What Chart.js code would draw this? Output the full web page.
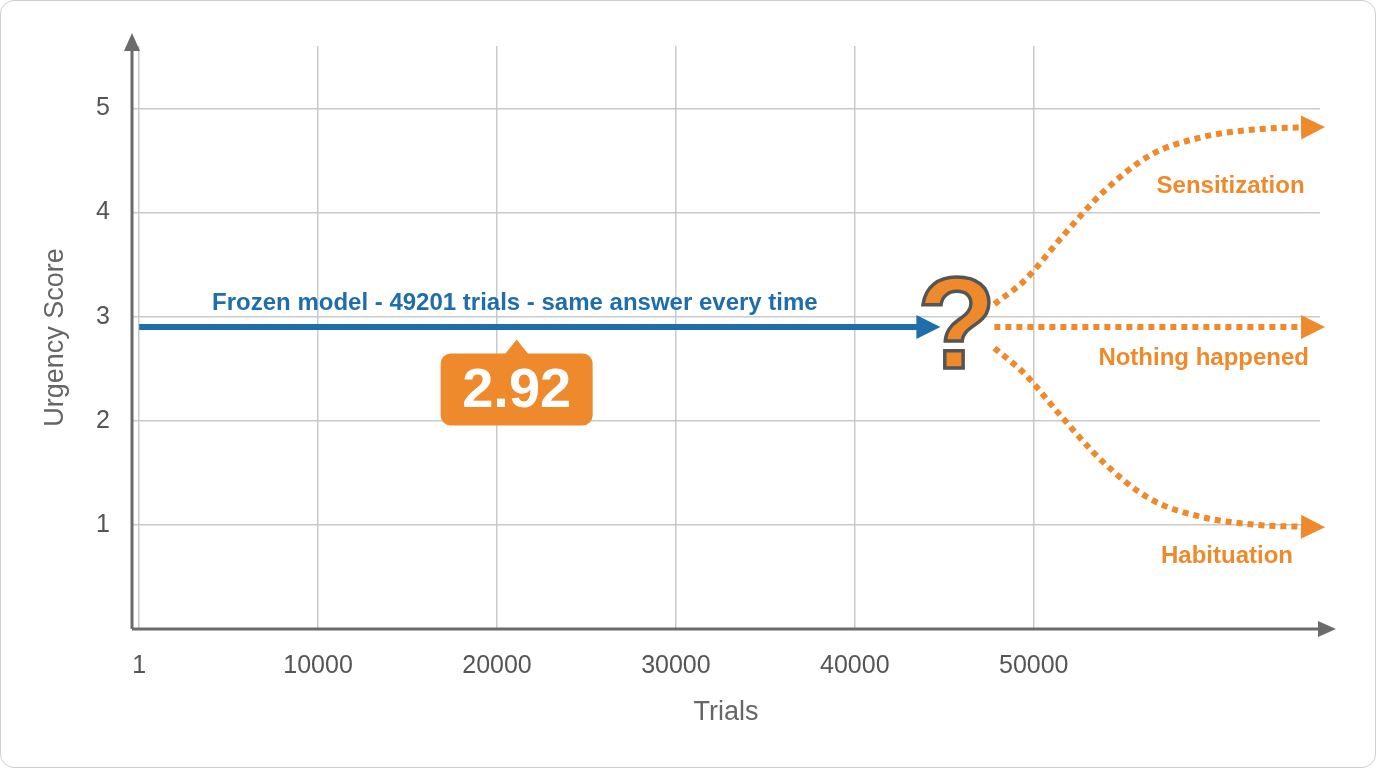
<!DOCTYPE html>
<html><head><meta charset="utf-8">
<script src="https://cdn.jsdelivr.net/npm/chart.js@4/dist/chart.umd.min.js"></script>
<style>
html,body{margin:0;padding:0;background:#fff;}
#wrap{position:absolute;left:0;top:0;width:1374px;height:766px;border:1px solid #d0d0d0;border-radius:14px;overflow:hidden;}
</style></head><body>
<div id="wrap"><canvas id="c" width="1374" height="766"></canvas></div>
<script>
const xTicks = [1, 10000, 20000, 30000, 40000, 50000];
const yTicks = [1, 2, 3, 4, 5];
const frozenX = [1, 44000];
const frozenY = [2.9, 2.9];
const frozenValue = "2.92";
const sensX = [47800, 49500, 51500, 53900, 56500, 59300, 62500, 65500];
const sensY = [3.12, 3.35, 3.75, 4.2, 4.55, 4.72, 4.8, 4.82];
const nothingX = [47800, 65500];
const nothingY = [2.9, 2.9];
const habX = [47800, 49500, 51500, 53900, 56500, 59300, 62500, 65500];
const habY = [2.7, 2.45, 2.05, 1.6, 1.25, 1.08, 1.0, 0.98];

const BLUE = '#1f6dab', ORANGE = '#ef8a2c', GREY = '#6b6b6b';
const FONT = '"Liberation Sans", Arial, sans-serif';
const pts = (xs, ys) => xs.map((x, i) => ({x, y: ys[i]}));

function arrowHead(ctx, x, y, ang, len, wid, col) {
  ctx.save(); ctx.translate(x, y); ctx.rotate(ang);
  ctx.beginPath(); ctx.moveTo(0, 0); ctx.lineTo(-len, -wid / 2); ctx.lineTo(-len, wid / 2); ctx.closePath();
  ctx.fillStyle = col; ctx.fill(); ctx.restore();
}

const deco = {
  id: 'deco',
  afterDatasetsDraw(chart) {
    const {ctx, chartArea: a, scales: {x, y}} = chart;
    ctx.save();
    ctx.strokeStyle = GREY; ctx.lineWidth = 3;
    ctx.beginPath(); ctx.moveTo(a.left, a.bottom); ctx.lineTo(a.right + 10, a.bottom); ctx.stroke();
    ctx.beginPath(); ctx.moveTo(a.left, a.bottom); ctx.lineTo(a.left, a.top - 5); ctx.stroke();
    arrowHead(ctx, a.right + 16, a.bottom, 0, 18, 16, GREY);
    arrowHead(ctx, a.left, a.top - 13, -Math.PI / 2, 18, 16, GREY);
    chart.data.datasets.forEach((ds, i) => {
      const m = chart.getDatasetMeta(i).data;
      const p1 = m[m.length - 1], p0 = m[m.length - 2];
      const ang = i === 0 ? 0 : Math.atan2(p1.y - p0.y, p1.x - p0.x) * 0.5;
      arrowHead(ctx, p1.x + 14 * Math.cos(ang), p1.y + 14 * Math.sin(ang), ang, 24, 24, ds.borderColor);
    });
    ctx.textAlign = 'center'; ctx.textBaseline = 'middle';
    ctx.font = 'bold 24px ' + FONT;
    ctx.fillStyle = BLUE;
    ctx.fillText('Frozen model - 49201 trials - same answer every time', x.getPixelForValue(21000), y.getPixelForValue(3.13));
    ctx.fillStyle = ORANGE;
    ctx.fillText('Sensitization', x.getPixelForValue(61000), y.getPixelForValue(4.25));
    ctx.fillText('Nothing happened', x.getPixelForValue(59500), y.getPixelForValue(2.6));
    ctx.fillText('Habituation', x.getPixelForValue(60800), y.getPixelForValue(0.7));
    ctx.font = 'bold 130px ' + FONT;
    ctx.lineWidth = 3.5; ctx.strokeStyle = '#555';
    const qx = x.getPixelForValue(45700), qy = y.getPixelForValue(2.85);
    ctx.fillStyle = ORANGE; ctx.fillText('?', qx, qy); ctx.strokeText('?', qx, qy);
    const cx = x.getPixelForValue(21100), cy = y.getPixelForValue(2.3);
    const w = 152, h = 72, r = 10;
    ctx.fillStyle = ORANGE;
    ctx.beginPath(); ctx.roundRect(cx - w / 2, cy - h / 2, w, h, r); ctx.fill();
    ctx.beginPath(); ctx.moveTo(cx - 12, cy - h / 2 + 1); ctx.lineTo(cx, cy - h / 2 - 14); ctx.lineTo(cx + 12, cy - h / 2 + 1); ctx.fill();
    ctx.fillStyle = '#fff'; ctx.font = 'bold 56px ' + FONT;
    ctx.fillText(frozenValue, cx, cy + 2);
    ctx.restore();
  }
};

new Chart(document.getElementById('c'), {
  type: 'line',
  data: {
    datasets: [
      {data: pts(frozenX, frozenY), borderColor: BLUE, borderWidth: 6, pointRadius: 0},
      {data: pts(sensX, sensY), borderColor: ORANGE, borderWidth: 6, borderDash: [6, 5], pointRadius: 0, cubicInterpolationMode: 'monotone'},
      {data: pts(nothingX, nothingY), borderColor: ORANGE, borderWidth: 6, borderDash: [6, 5], pointRadius: 0},
      {data: pts(habX, habY), borderColor: ORANGE, borderWidth: 6, borderDash: [6, 5], pointRadius: 0, cubicInterpolationMode: 'monotone'}
    ]
  },
  options: {
    responsive: false, animation: false,
    layout: {padding: {left: 38, top: 45, right: 55, bottom: 0}},
    plugins: {legend: {display: false}, tooltip: {enabled: false}},
    scales: {
      x: {
        type: 'linear', min: -400, max: 66000,
        afterBuildTicks: s => { s.ticks = xTicks.map(v => ({value: v})); },
        afterFit: s => { s.height = 138; },
        grid: {color: '#c9c9c9', lineWidth: 1.5, drawTicks: false},
        border: {display: false},
        ticks: {color: '#555', font: {size: 25, family: FONT}, padding: 22, maxRotation: 0, autoSkip: false, callback: v => String(v)},
        title: {display: true, text: 'Trials', color: '#666', font: {size: 27, family: FONT}, padding: {top: 0, bottom: 38}}
      },
      y: {
        min: 0, max: 5.6,
        afterBuildTicks: s => { s.ticks = yTicks.map(v => ({value: v})); },
        afterFit: s => { s.width = 93; },
        grid: {color: '#c9c9c9', lineWidth: 1.5, drawTicks: false},
        border: {display: false},
        ticks: {color: '#555', font: {size: 25, family: FONT}, padding: 22},
        title: {display: true, text: 'Urgency Score', color: '#666', font: {size: 27, family: FONT}, padding: {top: 0, bottom: 10}}
      }
    }
  },
  plugins: [deco]
});
</script></body></html>
